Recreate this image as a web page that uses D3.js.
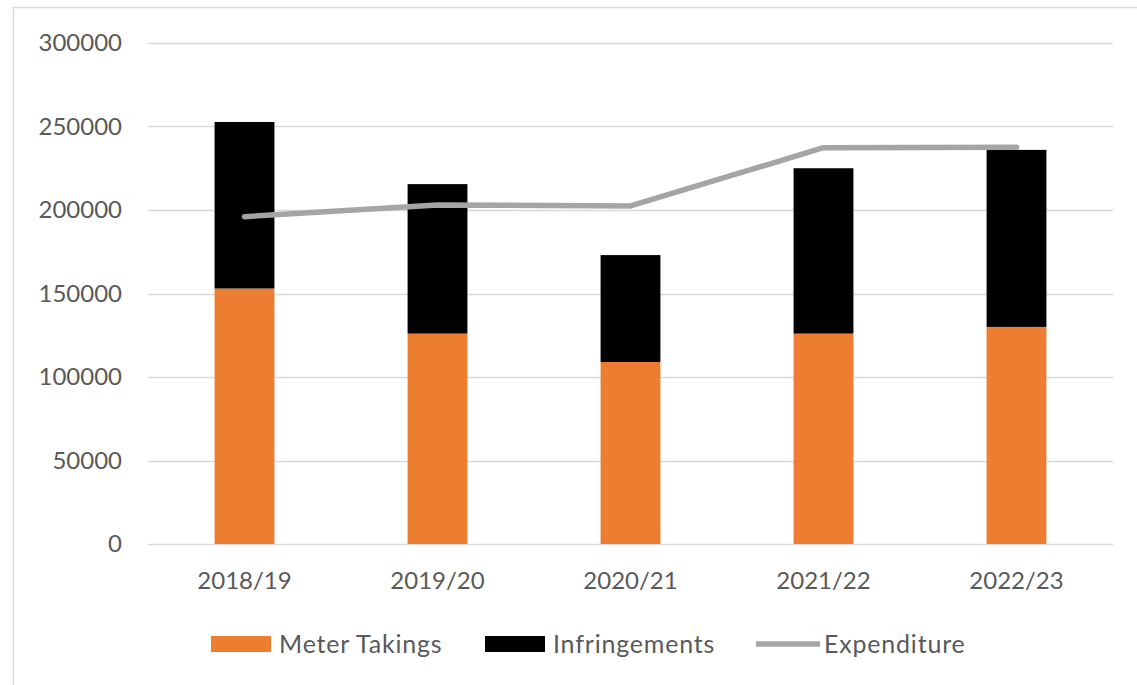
<!DOCTYPE html>
<html>
<head>
<meta charset="utf-8">
<script src="https://cdn.jsdelivr.net/npm/d3@7"></script>
<style>
  html, body { margin: 0; padding: 0; background: #fff; }
  svg { display: block; }
  text { font-family: Lato, "Open Sans", sans-serif; fill: #595959; }
</style>
</head>
<body>
<svg id="chart" width="1137" height="685"></svg>
<script>
// Parking revenue and expenditure by financial year
const categories   = ["2018/19", "2019/20", "2020/21", "2021/22", "2022/23"];
const meterTakings = [153000, 126000, 109000, 126000, 130000];
const infringements = [99700, 89500, 64000, 99000, 106000];
const expenditure  = [196000, 203000, 202400, 237300, 237600];
const yTicks       = [0, 50000, 100000, 150000, 200000, 250000, 300000];
const seriesNames  = ["Meter Takings", "Infringements", "Expenditure"];

const colors = { meter: "#ED7D31", infr: "#000000", exp: "#A5A5A5", grid: "#D9D9D9" };

const svg = d3.select("#chart");
const W = 1137, H = 685;
const plot = { left: 148, right: 1113, top: 43, bottom: 544 };

// outer frame of the chart area
svg.append("rect")
  .attr("x", 13.5).attr("y", 7.5)
  .attr("width", W + 20).attr("height", H + 20)
  .attr("fill", "#fff").attr("stroke", "#D9D9D9").attr("stroke-width", 1.5);

const x = d3.scaleBand()
  .domain(categories)
  .range([plot.left, plot.right])
  .paddingInner(0.69)
  .paddingOuter(0.345);

const y = d3.scaleLinear()
  .domain([0, 300000])
  .range([plot.bottom, plot.top]);

// horizontal gridlines
svg.append("g")
  .selectAll("line")
  .data(yTicks)
  .join("line")
  .attr("x1", plot.left).attr("x2", plot.right)
  .attr("y1", d => Math.round(y(d)) + 0.5).attr("y2", d => Math.round(y(d)) + 0.5)
  .attr("stroke", colors.grid).attr("stroke-width", 1.3);

// y axis labels
const yAxis = d3.axisLeft(y).tickValues(yTicks).tickSize(0).tickPadding(0).tickFormat(d3.format("d"));
const yg = svg.append("g").attr("transform", "translate(122,0)").call(yAxis);
yg.select(".domain").remove();
yg.selectAll("text").attr("font-size", 24).attr("fill", "#595959")
  .style("font-family", "Lato, sans-serif");

// x axis labels
const xAxis = d3.axisBottom(x).tickSize(0).tickPadding(0);
const xg = svg.append("g").attr("transform", `translate(0,${plot.bottom})`).call(xAxis);
xg.select(".domain").remove();
xg.selectAll("text").attr("font-size", 24).attr("dy", 0).attr("y", 45).attr("fill", "#595959")
  .style("font-family", "Lato, sans-serif");

// stacked bars
const rows = categories.map((c, i) => ({ cat: c, meter: meterTakings[i], infr: infringements[i] }));
const stack = d3.stack().keys(["meter", "infr"])(rows);
const fills = { meter: colors.meter, infr: colors.infr };

svg.append("g")
  .selectAll("g")
  .data(stack)
  .join("g")
  .attr("fill", d => fills[d.key])
  .selectAll("rect")
  .data(d => d)
  .join("rect")
  .attr("x", d => x(d.data.cat))
  .attr("width", x.bandwidth())
  .attr("y", d => y(d[1]))
  .attr("height", d => y(d[0]) - y(d[1]));

// expenditure line
const line = d3.line()
  .x((d, i) => x(categories[i]) + x.bandwidth() / 2)
  .y(d => y(d));

svg.append("path")
  .datum(expenditure)
  .attr("d", line)
  .attr("fill", "none")
  .attr("stroke", colors.exp)
  .attr("stroke-width", 5.5)
  .attr("stroke-linejoin", "round")
  .attr("stroke-linecap", "round");

// legend
const legend = svg.append("g").attr("font-size", 25).attr("letter-spacing", 0.8);
const legendItems = [
  { name: seriesNames[0], type: "rect", color: colors.meter, x0: 211, tx: 279 },
  { name: seriesNames[1], type: "rect", color: colors.infr,  x0: 485, tx: 553 },
  { name: seriesNames[2], type: "line", color: colors.exp,   x0: 756, tx: 824 }
];
const ly = 644;
legendItems.forEach(it => {
  if (it.type === "rect") {
    legend.append("rect").attr("x", it.x0).attr("y", ly - 8).attr("width", 60).attr("height", 16).attr("fill", it.color);
  } else {
    legend.append("line").attr("x1", it.x0).attr("x2", it.x0 + 64).attr("y1", ly).attr("y2", ly)
      .attr("stroke", it.color).attr("stroke-width", 5.5);
  }
  legend.append("text").attr("x", it.tx).attr("y", ly).attr("dy", "0.35em").text(it.name);
});
</script>
</body>
</html>
